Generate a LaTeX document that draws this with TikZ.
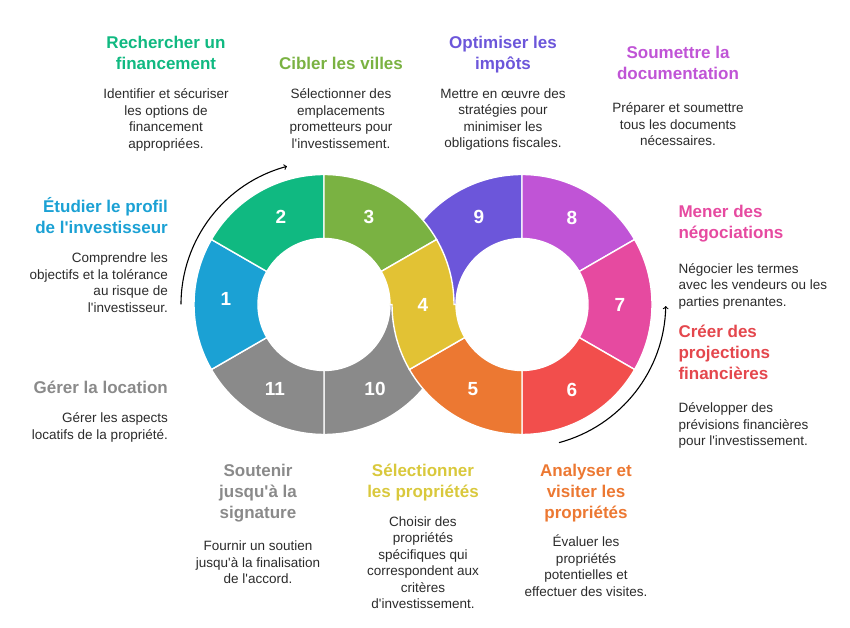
\documentclass[tikz,border=0pt]{standalone}
\usepackage{fontspec}
\setmainfont{Liberation Sans}
\usepackage{tikz}
\usetikzlibrary{arrows,positioning}

\definecolor{cBlue}{HTML}{1BA1D4}
\definecolor{cGreen}{HTML}{10B981}
\definecolor{cOlive}{HTML}{7AB242}
\definecolor{cYellow}{HTML}{E2C234}
\definecolor{cYellowT}{HTML}{D9C83C}
\definecolor{cOrange}{HTML}{EC7832}
\definecolor{cRed}{HTML}{F24E4C}
\definecolor{cRedT}{HTML}{E4474D}
\definecolor{cPink}{HTML}{E64AA0}
\definecolor{cViolet}{HTML}{C054D6}
\definecolor{cIndigo}{HTML}{6C56DA}
\definecolor{cGray}{HTML}{8A8A8A}
\definecolor{cText}{HTML}{2B2B2B}

\begin{document}
\begin{tikzpicture}
[x=1pt,y=1pt,>=to,node distance=19pt]
  \tikzstyle{seg}=[draw=white,line width=1.4pt]
  \tikzstyle{num}=[text=white,font=\fontsize{19}{19}\selectfont\bfseries]
  \tikzstyle{ttl}=[inner sep=0pt,font=\fontsize{17}{21}\selectfont\bfseries]
  \tikzstyle{desc}=[inner sep=0pt,text=cText,font=\fontsize{13.5}{16.5}\selectfont]
  \tikzstyle{arr}=[->,black,line width=1.1pt]

  \useasboundingbox (0,0) rectangle (850,628);
  \coordinate (L) at (324,323.5);
  \coordinate (R) at (522,323.5);

  % segments lying underneath
  \begin{scope}[shift={(R)}]
    \filldraw[seg,fill=cIndigo] (90:66) arc[start angle=90,end angle=180,radius=66] -- (180:130) arc[start angle=180,end angle=90,radius=130] -- cycle;
    \filldraw[seg,fill=cViolet] (30:66) arc[start angle=30,end angle=90,radius=66] -- (90:130) arc[start angle=90,end angle=30,radius=130] -- cycle;
    \filldraw[seg,fill=cPink] (-30:66) arc[start angle=-30,end angle=30,radius=66] -- (30:130) arc[start angle=30,end angle=-30,radius=130] -- cycle;
    \filldraw[seg,fill=cRed] (-90:66) arc[start angle=-90,end angle=-30,radius=66] -- (-30:130) arc[start angle=-30,end angle=-90,radius=130] -- cycle;
  \end{scope}
  \begin{scope}[shift={(L)}]
    \filldraw[seg,fill=cGray] (270:66) arc[start angle=270,end angle=360,radius=66] -- (360:130) arc[start angle=360,end angle=270,radius=130] -- cycle;
    \filldraw[seg,fill=cGray] (210:66) arc[start angle=210,end angle=270,radius=66] -- (270:130) arc[start angle=270,end angle=210,radius=130] -- cycle;
    \filldraw[seg,fill=cBlue] (150:66) arc[start angle=150,end angle=210,radius=66] -- (210:130) arc[start angle=210,end angle=150,radius=130] -- cycle;
    \filldraw[seg,fill=cGreen] (90:66) arc[start angle=90,end angle=150,radius=66] -- (150:130) arc[start angle=150,end angle=90,radius=130] -- cycle;
    \filldraw[seg,fill=cOlive] (30:66) arc[start angle=30,end angle=90,radius=66] -- (90:130) arc[start angle=90,end angle=30,radius=130] -- cycle;
  \end{scope}
  \begin{scope}[shift={(R)}]
    \filldraw[seg,fill=cOrange] (210:66) arc[start angle=210,end angle=270,radius=66] -- (270:130) arc[start angle=270,end angle=210,radius=130] -- cycle;
  \end{scope}
  % the crossing band
  \filldraw[seg,fill=cYellow] ([shift={(L)}]30:66) -- ([shift={(L)}]30:130) arc[start angle=30,end angle=0,radius=130]
    -- ([shift={(R)}]180:66) arc[start angle=180,end angle=210,radius=66]
    -- ([shift={(R)}]210:130) arc[start angle=210,end angle=180,radius=130]
    -- ([shift={(L)}]0:66) arc[start angle=0,end angle=30,radius=66] -- cycle;

  \node[num] (n1) at (226,329) {1};
  \node[num] (n2) at (281,411) {2};
  \node[num] (n3) at (369,411) {3};
  \node[num] (n4) at (423,323.5) {4};
  \node[num] (n5) at (473,238.5) {5};
  \node[num] (n6) at (572,238.5) {6};
  \node[num] (n7) at (620,323.5) {7};
  \node[num] (n8) at (572,410) {8};
  \node[num] (n9) at (479,411.5) {9};
  \node[num] (n10) at (375,239) {10};
  \node[num] (n11) at (275,239) {11};

  \coordinate (a1) at ([shift={(L)}]180:143);
  \coordinate (a2) at ([shift={(R)}]-75:143);
  \draw[arr] (a1) arc[start angle=180,end angle=105,radius=143];
  \draw[arr] (a2) arc[start angle=-75,end angle=-1,radius=144];

  \node[ttl,text=cGreen,align=center,anchor=north] (T2) at (166,592.5) {Rechercher un\\financement};
  \node[desc,align=center] (D2) [below=of T2] {Identifier et sécuriser\\les options de\\financement\\appropriées.};
  \node[ttl,text=cOlive,align=center,anchor=north] (T3) at (341,571.5) {Cibler les villes};
  \node[desc,align=center] (D3) [below=of T3] {Sélectionner des\\emplacements\\prometteurs pour\\l\textquotesingle investissement.};
  \node[ttl,text=cIndigo,align=center,anchor=north] (T9) at (503,592.5) {Optimiser les\\impôts};
  \node[desc,align=center] (D9) [below=15.4pt of T9] {Mettre en œuvre des\\stratégies pour\\minimiser les\\obligations fiscales.};
  \node[ttl,text=cViolet,align=center,anchor=north] (T8) at (678,582.5) {Soumettre la\\documentation};
  \node[desc,align=center] (D8) [below=23pt of T8] {Préparer et soumettre\\tous les documents\\nécessaires.};

  \node[ttl,text=cBlue,align=right,anchor=north east] (T1) at (168,431) {Étudier le profil\\de l\textquotesingle investisseur};
  \node[desc,align=right] (D1) [below=of T1.south east,anchor=north east] {Comprendre les\\objectifs et la tolérance\\au risque de\\l\textquotesingle investisseur.};
  \node[ttl,text=cGray,align=right,anchor=north east] (T11) at (168,247.2) {Gérer la location};
  \node[desc,align=right] (D11) [below=of T11.south east,anchor=north east] {Gérer les aspects\\locatifs de la propriété.};

  \node[ttl,text=cPink,align=left,anchor=north west] (T7) at (678.3,422.8) {Mener des\\négociations};
  \node[desc,align=left] (D7) [below=20.4pt of T7.south west,anchor=north west] {Négocier les termes\\avec les vendeurs ou les\\parties prenantes.};
  \node[ttl,text=cRedT,align=left,anchor=north west] (T6) at (678.3,302.8) {Créer des\\projections\\financières};
  \node[desc,align=left] (D6) [below=22.3pt of T6.south west,anchor=north west] {Développer des\\prévisions financières\\pour l\textquotesingle investissement.};

  \node[ttl,text=cGray,align=center,anchor=north] (T10) at (258,164.5) {Soutenir\\jusqu\textquotesingle à la\\signature};
  \node[desc,align=center] (D10) [below=18.7pt of T10] {Fournir un soutien\\jusqu\textquotesingle à la finalisation\\de l\textquotesingle accord.};
  \node[ttl,text=cYellowT,align=center,anchor=north] (T4) at (423,164.5) {Sélectionner\\les propriétés};
  \node[desc,align=center] (D4) [below=15.4pt of T4] {Choisir des\\propriétés\\spécifiques qui\\correspondent aux\\critères\\d\textquotesingle investissement.};
  \node[ttl,text=cOrange,align=center,anchor=north] (T5) at (586,164.5) {Analyser et\\visiter les\\propriétés};
  \node[desc,align=center] (D5) [below=13pt of T5] {Évaluer les\\propriétés\\potentielles et\\effectuer des visites.};
\end{tikzpicture}
\end{document}
